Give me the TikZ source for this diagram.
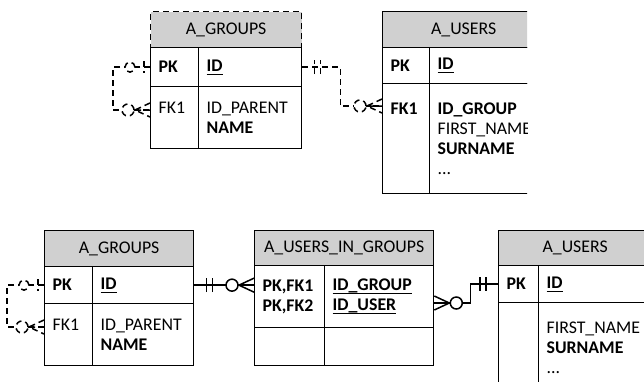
\documentclass[tikz,border=0pt]{standalone}
\usepackage{fontspec}
\setmainfont{Carlito}
\hyphenpenalty=10000

\definecolor{hdrgray}{RGB}{208,208,208}
\newcommand{\keyfield}[1]{\textbf{\setbox0\hbox{#1}\rlap{\vrule height -2.4pt depth 3.6pt width \wd0}\box0}}

\tikzset{
  hdr/.style={draw, fill=hdrgray, line width=1.3pt, anchor=north west, inner sep=0pt},
  cell/.style={draw, line width=1.3pt, anchor=north west, align=left,
    inner xsep=8pt, inner ysep=0pt, text width=#1},
  rel/.style={line width=1.5pt},
  reldash/.style={rel, dash pattern=on 6pt off 4pt},
  zeroone/.pic={
    \draw (-6,-6) -- (-6,6);
    \draw[fill=white] (-20,0) circle[radius=5pt];
  },
  onlyone/.pic={
    \draw (-12,-7) -- (-12,7) (-18,-7) -- (-18,7);
  },
  zeromany/.pic={
    \draw (0,-7) -- (-15,0) -- (0,7) (-15,0) -- (0,0);
    \draw[fill=white] (-22,0) circle[radius=6pt];
  },
}

\begin{document}
\begin{tikzpicture}[x=1pt, y=-1pt, font=\fontsize{17.8pt}{20pt}\selectfont]
    \useasboundingbox (0,0) rectangle (644,381);
    \clip (0,0) rectangle (644,381);

    % top: one-to-many
    \begin{scope}
    \clip (0,0) rectangle (527,200);
    \node[hdr, dash pattern=on 6pt off 4pt, minimum width=151pt, minimum height=36pt] (gh) at (150,11) {A\_GROUPS};
    \node[cell=32pt, minimum height=39pt] (gpk) at (150,47) {\textbf{PK}};
    \node[cell=87pt, minimum height=39pt] (gid) at (198,47) {\keyfield{ID}};
    \node[cell=32pt, minimum height=62pt] (gfk) at (150,86) {FK1\\\mbox{}};
    \node[cell=87pt, minimum height=62pt] (gattr) at (198,86) {ID\_PARENT\\\textbf{NAME}};

    \node[hdr, minimum width=162pt, minimum height=36pt] (uh) at (382,11) {A\_USERS};
    \node[cell=31pt, minimum height=36pt] (upk) at (382,47) {\textbf{PK}};
    \node[cell=99pt, minimum height=36pt] (uid) at (429,47) {\keyfield{ID}};
    \node[cell=31pt, minimum height=110pt] (ufk) at (382,83) {\textbf{FK1}\\\mbox{}\\\mbox{}\\\mbox{}};
    \node[cell=99pt, minimum height=110pt] (uattr) at (429,83)
      {\textbf{ID\_GROUP}\\FIRST\_NAME\\\textbf{SURNAME}\\...};

    \draw[reldash] (gpk.west) -- ++(-37,0) |- ([yshift=-24pt]gfk.north west);
    \draw[reldash] (gid.east) -- ++(38,0) |- ([yshift=-23pt]ufk.north west);

    \pic[reldash] at (gpk.west) {zeroone};
    \pic[reldash] at ([yshift=-24pt]gfk.north west) {zeromany};
    \pic[reldash, rotate=180] at (gid.east) {onlyone};
    \pic[reldash] at ([yshift=-23pt]ufk.north west) {zeromany};
    \end{scope}

    % bottom: many-to-many
    \node[hdr, minimum width=149pt, minimum height=36pt] (bgh) at (44,230) {A\_GROUPS};
    \node[cell=32pt, minimum height=37pt] (bgpk) at (44,266) {\textbf{PK}};
    \node[cell=85pt, minimum height=37pt] (bgid) at (92,266) {\keyfield{ID}};
    \node[cell=32pt, minimum height=62pt] (bgfk) at (44,303) {FK1\\\mbox{}};
    \node[cell=85pt, minimum height=62pt] (bgattr) at (92,303) {ID\_PARENT\\\textbf{NAME}};

    \node[hdr, minimum width=179pt, minimum height=35pt] (uigh) at (254,230) {A\_USERS\_IN\_GROUPS};
    \node[cell=54pt, minimum height=62pt] (uigpk) at (254,265) {\textbf{PK,FK1}\\\textbf{PK,FK2}};
    \node[cell=93pt, minimum height=62pt] (uigid) at (324,265) {\keyfield{ID\_GROUP}\\\keyfield{ID\_USER}};
    \node[cell=54pt, minimum height=38pt] (uigk2) at (254,327) {};
    \node[cell=93pt, minimum height=38pt] (uigf2) at (324,327) {};

    \node[hdr, minimum width=153pt, minimum height=35pt] (buh) at (498,230) {A\_USERS};
    \node[cell=24pt, minimum height=37pt] (bupk) at (498,265) {\textbf{PK}};
    \node[cell=97pt, minimum height=37pt] (buid) at (538,265) {\keyfield{ID}};
    \node[cell=24pt, minimum height=90pt] (bufk) at (498,302) {};
    \node[cell=97pt, minimum height=90pt] (buattr) at (538,302) {FIRST\_NAME\\\textbf{SURNAME}\\...};

    \draw[reldash] (bgpk.west) -- ++(-37,0) |- ([yshift=-24pt]bgfk.north west);
    \draw[rel] (bgid.east) -- (bgid.east -| uigpk.west);
    \draw[rel] ([yshift=-38pt]uigid.north east) -- ++(36,0) |- (bupk.west);

    \pic[reldash] at (bgpk.west) {zeroone};
    \pic[reldash] at ([yshift=-24pt]bgfk.north west) {zeromany};
    \pic[rel, rotate=180] at (bgid.east) {onlyone};
    \pic[rel] at (bgid.east -| uigpk.west) {zeromany};
    \pic[rel, rotate=180] at ([yshift=-38pt]uigid.north east) {zeromany};
    \pic[rel] at (bupk.west) {onlyone};
\end{tikzpicture}
\end{document}
